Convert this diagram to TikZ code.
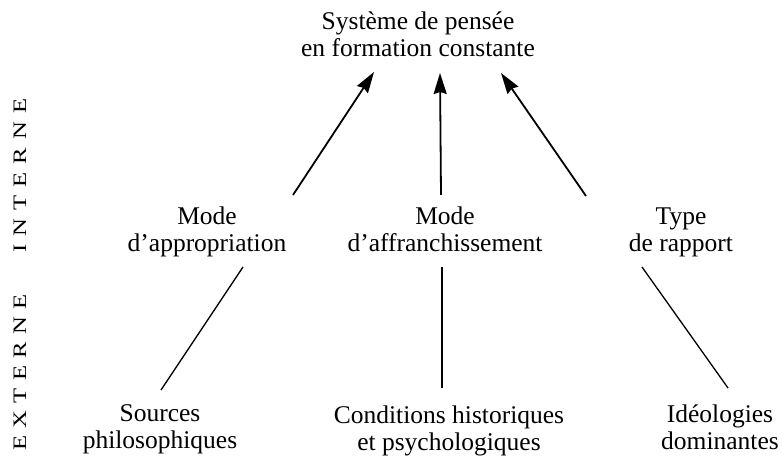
\documentclass[tikz,border=0pt]{standalone}
\usepackage{fontspec}
\setmainfont{Liberation Serif}
\newfontfamily\widefont[FakeStretch=1.3]{Liberation Serif}
\usetikzlibrary{arrows.meta}
\begin{document}
\begin{tikzpicture}[x=1pt,y=1pt,
  lab/.style={font=\fontsize{25.5}{27}\selectfont, align=center, inner sep=0pt},
  arr/.style={line width=1.8pt, -{Stealth[length=21pt,width=13pt,inset=2pt]}},
  ln/.style={line width=1.3pt},
  side/.style={rotate=90, inner sep=0pt, font=\widefont\fontsize{19}{19}\selectfont}]
\useasboundingbox (0,0) rectangle (782,460);
\node[lab] (top) at (418,425.5) {Système de pensée\\en formation constante};
\node[lab] (m1) at (207,228) {Mode\\d'appropriation};
\node[lab] (m2) at (445,230.7) {Mode\\d'affranchissement};
\node[lab] (m3) at (681,228) {Type\\de rapport};
\node[lab] (b1) at (160,30.3) {Sources\\philosophiques};
\node[lab] (b2) at (449,29.5) {Conditions historiques\\et psychologiques};
\node[lab] (b3) at (720,33) {Idéologies\\dominantes};
\node[side] (int) at (20,284.5) {I\kern8pt N\kern8pt T\kern8pt E\kern8pt R\kern8pt N\kern8pt E};
\node[side] (ext) at (20,87.5) {E\kern7.2pt X\kern7.2pt T\kern7.2pt E\kern7.2pt R\kern7.2pt N\kern7.2pt E};
% arrows to the top
\draw[arr] ([shift={(86,37)}]m1.center) -- ([shift={(-44,-37.5)}]top.center);
\draw[arr] ([shift={(-4,34.3)}]m2.center) -- ([shift={(22,-38.5)}]top.center);
\draw[arr] ([shift={(-95,36)}]m3.center) -- ([shift={(83,-38.5)}]top.center);
% lower lines
\draw[ln] ([shift={(36,-35)}]m1.center) -- ([shift={(1,39.7)}]b1.center);
\draw[ln] ([shift={(-3,-37.7)}]m2.center) -- ([shift={(-7,42.5)}]b2.center);
\draw[ln] ([shift={(-39,-35)}]m3.center) -- ([shift={(8,39)}]b3.center);
\end{tikzpicture}
\end{document}
